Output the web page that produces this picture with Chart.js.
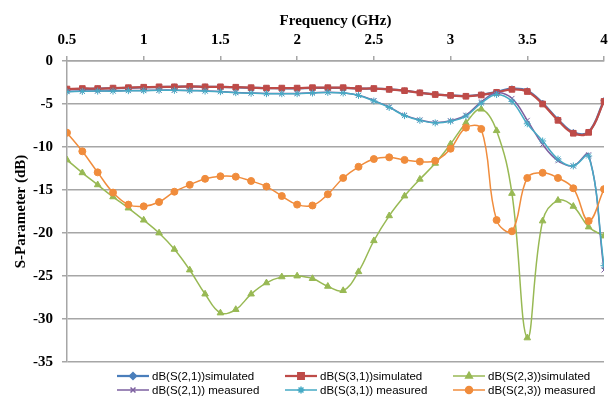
<!DOCTYPE html>
<html>
<head>
<meta charset="utf-8">
<script src="https://cdn.jsdelivr.net/npm/chart.js@4/dist/chart.umd.min.js"></script>
<style>
  html, body { margin: 0; padding: 0; background: #fff; }
  #wrap { width: 609px; height: 406px; }
</style>
</head>
<body>
<div id="wrap"><canvas id="sparam" width="609" height="406"></canvas></div>
<script>
// frequency points (GHz)
const freq = [0.5, 0.6, 0.7, 0.8, 0.9, 1.0, 1.1, 1.2, 1.3, 1.4, 1.5, 1.6, 1.7, 1.8, 1.9, 2.0, 2.1, 2.2,
              2.3, 2.4, 2.5, 2.6, 2.7, 2.8, 2.9, 3.0, 3.1, 3.2, 3.3, 3.4, 3.5, 3.6, 3.7, 3.8, 3.9, 4.0];

const xTicks = [0.5, 1, 1.5, 2, 2.5, 3, 3.5, 4];
const yTicks = [0, -5, -10, -15, -20, -25, -30, -35];

const s21Sim = [-3.3, -3.25, -3.22, -3.17, -3.12, -3.07, -3.03, -3.0, -2.98, -3.0, -3.02, -3.07, -3.12, -3.15, -3.17, -3.17, -3.13, -3.12,
                -3.12, -3.2, -3.22, -3.3, -3.45, -3.68, -3.88, -4.0, -4.08, -3.92, -3.6, -3.22, -3.45, -4.9, -6.8, -8.3, -8.25, -4.6];
const s31Sim = [-3.26, -3.2, -3.2, -3.15, -3.1, -3.05, -3.0, -3.0, -2.95, -3.0, -3.0, -3.05, -3.1, -3.15, -3.15, -3.15, -3.1, -3.1,
                -3.1, -3.2, -3.2, -3.3, -3.45, -3.7, -3.9, -4.0, -4.1, -3.95, -3.65, -3.3, -3.55, -5.0, -6.9, -8.4, -8.3, -4.7];
const s23Sim = [-11.5, -13.0, -14.4, -15.8, -17.1, -18.5, -20.0, -21.9, -24.3, -27.1, -29.3, -28.9, -27.1, -25.8, -25.1, -25.0, -25.3, -26.2,
                -26.7, -24.5, -20.9, -18.0, -15.7, -13.75, -11.9, -9.65, -7.2, -5.6, -8.1, -15.4, -32.2, -18.6, -16.2, -16.9, -19.3, -20.35];
const s21Meas = [-3.54, -3.5, -3.48, -3.47, -3.43, -3.42, -3.39, -3.39, -3.42, -3.47, -3.54, -3.65, -3.72, -3.77, -3.78, -3.77, -3.7, -3.63,
                 -3.7, -3.97, -4.6, -5.35, -6.3, -6.85, -7.15, -6.95, -6.3, -4.75, -3.7, -4.35, -6.9, -9.7, -11.6, -12.2, -10.9, -24.3];
const s31Meas = [-3.57, -3.53, -3.5, -3.5, -3.45, -3.45, -3.41, -3.41, -3.45, -3.5, -3.57, -3.68, -3.75, -3.8, -3.8, -3.8, -3.72, -3.65,
                 -3.72, -4.0, -4.65, -5.4, -6.35, -6.9, -7.2, -7.0, -6.4, -4.9, -3.9, -4.7, -7.3, -9.3, -11.4, -12.2, -11.05, -23.8];
const s23Meas = [-8.34, -10.5, -12.95, -15.3, -16.7, -16.9, -16.4, -15.2, -14.4, -13.7, -13.4, -13.45, -13.95, -14.6, -15.7, -16.7, -16.8, -15.5,
                 -13.6, -12.3, -11.4, -11.2, -11.5, -11.7, -11.6, -10.2, -7.75, -7.9, -18.5, -19.8, -13.6, -13.0, -13.6, -14.8, -18.6, -14.9];

const seriesNames = ['dB(S(2,1))simulated', 'dB(S(3,1))simulated', 'dB(S(2,3))simulated',
                     'dB(S(2,1)) measured', 'dB(S(3,1)) measured', 'dB(S(2,3)) measured'];

/* ---------- styles ---------- */
const looks = [
  { color: '#4a7ebb', style: 'rectRot', r: 3,   w: 2.25 },
  { color: '#be4b48', style: 'rect',    r: 4,   w: 2.25 },
  { color: '#98b954', style: 'triangle',r: 3.8, w: 1.5 },
  { color: '#7d60a0', style: 'crossRot',r: 3.5, w: 1.5 },
  { color: '#46aac5', style: 'star',    r: 3.5, w: 1.5 },
  { color: '#f08c3c', style: 'circle',  r: 3.5, w: 1.5 }
];
const values = [s21Sim, s31Sim, s23Sim, s21Meas, s31Meas, s23Meas];

const datasets = values.map((arr, i) => ({
  label: seriesNames[i],
  data: arr.map((v, k) => ({ x: freq[k], y: v })),
  borderColor: looks[i].color,
  backgroundColor: looks[i].color,
  pointBackgroundColor: looks[i].color,
  pointBorderColor: looks[i].color,
  pointStyle: looks[i].style,
  pointRadius: looks[i].r,
  pointBorderWidth: 1,
  borderWidth: looks[i].w,
  tension: 0.4,
  order: 6 - i
}));

/* ---------- legend drawn under the plot ---------- */
const legendGrid = {
  id: 'legendGrid',
  afterDraw(chart) {
    const ctx = chart.ctx;
    const cols = [117, 285, 453];
    const rows = [376, 390];
    ctx.save();
    ctx.font = '11.5px "Liberation Sans", Arial, sans-serif';
    ctx.textBaseline = 'middle';
    ctx.fillStyle = '#000';
    seriesNames.forEach((name, i) => {
      const x = cols[i % 3], y = rows[Math.floor(i / 3)];
      const lk = looks[i];
      ctx.strokeStyle = lk.color;
      ctx.lineWidth = lk.w;
      ctx.beginPath();
      ctx.moveTo(x, y);
      ctx.lineTo(x + 32, y);
      ctx.stroke();
      ctx.fillStyle = lk.color;
      Chart.helpers.drawPoint(ctx, {
        pointStyle: lk.style, radius: lk.r, rotation: 0, borderWidth: 1
      }, x + 16, y);
      ctx.fillStyle = '#000';
      ctx.fillText(name, x + 35, y + 0.5);
    });
    ctx.restore();
  }
};

const gridGray = '#a6a6a6';
const serifBold = { family: '"Liberation Serif", "Times New Roman", serif', size: 15, weight: 'bold', lineHeight: 1 };

new Chart(document.getElementById('sparam').getContext('2d'), {
  type: 'line',
  data: { datasets },
  options: {
    responsive: false,
    animation: false,
    layout: { padding: { left: 14, right: -1, top: 14, bottom: 44 } },
    plugins: { legend: { display: false }, tooltip: { enabled: false } },
    scales: {
      x: {
        type: 'linear',
        position: 'top',
        min: 0.5,
        max: 4,
        afterBuildTicks: s => { s.ticks = xTicks.map(v => ({ value: v })); },
        afterFit: s => { s.paddingLeft = 0; s.paddingRight = 0; },
        ticks: { color: '#000', font: serifBold, padding: 8, maxRotation: 0, callback: v => String(v) },
        grid: { drawOnChartArea: false, drawTicks: true, tickLength: 5, color: gridGray, lineWidth: 1.5 },
        border: { color: gridGray, width: 1.5 },
        title: { display: true, text: 'Frequency (GHz)', color: '#000', font: serifBold, padding: { top: 0, bottom: -4 } }
      },
      y: {
        min: -35,
        max: 0,
        afterBuildTicks: s => { s.ticks = yTicks.map(v => ({ value: v })); },
        ticks: { color: '#000', font: serifBold, padding: 9 },
        grid: { color: gridGray, lineWidth: 1.5, tickLength: 5 },
        border: { color: gridGray, width: 1.5 },
        title: { display: true, text: 'S-Parameter (dB)', color: '#000', font: serifBold, padding: { top: 0, bottom: -5 } }
      }
    }
  },
  plugins: [legendGrid]
});
</script>
</body>
</html>
